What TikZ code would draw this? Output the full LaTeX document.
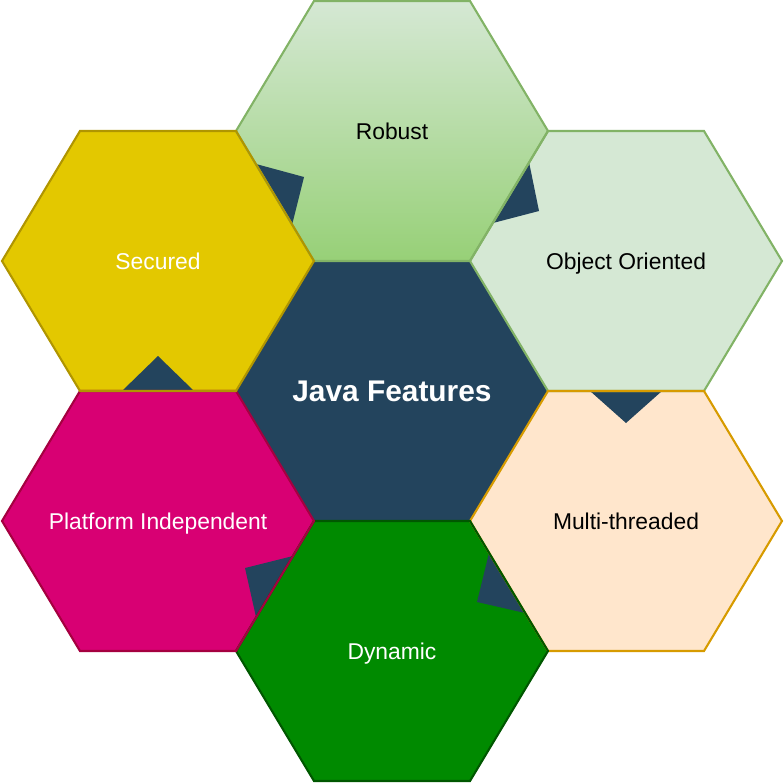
\documentclass[tikz,border=0pt]{standalone}
\usepackage{fontspec}
\setmainfont{Liberation Sans}
\definecolor{navy}{HTML}{23445D}
\definecolor{robtop}{HTML}{D5E8D4}
\definecolor{robbot}{HTML}{97D077}
\definecolor{greenline}{HTML}{82B366}
\definecolor{oofill}{HTML}{D5E8D4}
\definecolor{mtfill}{HTML}{FFE6CC}
\definecolor{mtline}{HTML}{D79B00}
\definecolor{dynfill}{HTML}{008A00}
\definecolor{dynline}{HTML}{005700}
\definecolor{platfill}{HTML}{D80073}
\definecolor{platline}{HTML}{A50040}
\definecolor{secfill}{HTML}{E3C800}
\definecolor{secline}{HTML}{B09500}
\tikzset{
  hexa/.style={line width=1.2pt,line join=miter},
  hextext/.style={font=\fontsize{13}{15}\selectfont,inner sep=0pt,text height=9.8pt,text depth=0pt},
}

\begin{document}
\begin{tikzpicture}[x=0.02cm,y=-0.02cm]
  \useasboundingbox (0,0) rectangle (783,783);
  % centre hexagon
  \fill[navy] (236,391) -- ++(78,-130) -- ++(156,0) -- ++(78,130) -- ++(-78,130) -- ++(-156,0) -- cycle;
  % outer fills
  \shade[top color=robtop,bottom color=robbot] (236,131) -- ++(78,-130) -- ++(156,0) -- ++(78,130) -- ++(-78,130) -- ++(-156,0) -- cycle;
  \foreach \cx/\cy/\fc in {626/261/oofill,626/521/mtfill,392/651/dynfill,158/521/platfill,158/261/secfill}
    \fill[\fc] (\cx-156,\cy) -- ++(78,-130) -- ++(156,0) -- ++(78,130) -- ++(-78,130) -- ++(-156,0) -- cycle;
  % pointers between neighbours
  \foreach \p/\q/\r in {{256,164}/{304,177}/{292,225},{529,162}/{539,211}/{493,223},{590,391}/{662,391}/{626,423},
                        {489,553}/{477,602}/{525,613},{293,556}/{245,568}/{256,617},{122,391}/{194,391}/{158,356}}
    \fill[navy] (\p) -- (\q) -- (\r) -- cycle;
  % outlines
  \foreach \cx/\cy/\dc in {392/131/greenline,626/261/greenline,626/521/mtline,392/651/dynline,158/521/platline,158/261/secline}
    \draw[hexa,draw=\dc] (\cx-156,\cy) -- ++(78,-130) -- ++(156,0) -- ++(78,130) -- ++(-78,130) -- ++(-156,0) -- cycle;
  % labels
  \node[hextext,font=\bfseries\fontsize{17}{20}\selectfont,text=white,text height=12.2pt] (java) at (392,391) {Java Features};
  \node[hextext] (robust) at (392,131) {Robust};
  \node[hextext] (oo) at (626,261) {Object Oriented};
  \node[hextext] (multi) at (626,521) {Multi-threaded};
  \node[hextext,text=white] (dynamic) at (392,651) {Dynamic};
  \node[hextext,text=white] (platform) at (158,521) {Platform Independent};
  \node[hextext,text=white] (secured) at (158,261) {Secured};
\end{tikzpicture}
\end{document}
